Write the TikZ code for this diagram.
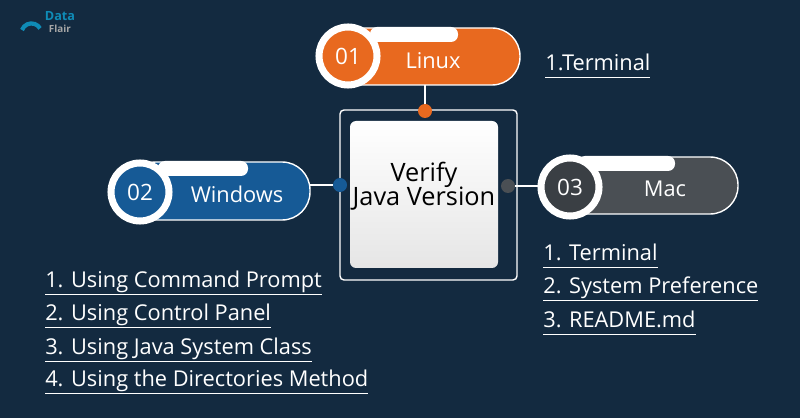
\documentclass[tikz,border=0pt]{standalone}
\usepackage{fontspec}
\setmainfont{Open Sans}
\definecolor{bg}{HTML}{132A40}
\definecolor{lin}{HTML}{E8691F}
\definecolor{win}{HTML}{165A96}
\definecolor{mac}{HTML}{4A4F54}
\definecolor{macd}{HTML}{3A3F44}
\usetikzlibrary{calc}
\newlength{\pxu}\setlength{\pxu}{0.025cm}
\tikzset{
 pill/.style={rounded corners=28\pxu, draw=white, line width=1pt},
 num/.style={circle, draw=white, line width=5pt, minimum size=58\pxu, inner sep=0pt, text=white, font=\fontsize{16}{18}\selectfont},
 lbl/.style={text=white, font=\fontsize{15.5}{18}\selectfont},
 item/.style={text=white, anchor=west, inner sep=0pt, font=\fontsize{15.5}{18}\selectfont},
 dot/.style={circle, inner sep=0pt, minimum size=14\pxu},
 conn/.style={white, line width=1.5pt},
}
\newcommand{\ul}[1]{\underline{\vphantom{y}#1}}
\begin{document}
\begin{tikzpicture}[x=0.025cm,y=-0.025cm]
\fill[bg] (0,0) rectangle (800,418);
\useasboundingbox (0,0) rectangle (800,418);
% logo
\node[text=win!70!cyan, font=\bfseries\fontsize{9}{10}\selectfont, anchor=west] (logo1) at (40,16) {Data};
\node[text=gray!70, font=\bfseries\fontsize{7}{8}\selectfont, anchor=west] (logo2) at (44,29) {Flair};
\draw[win!70!cyan, line width=3pt] (22,30) arc (200:330:10);
% frame
\draw[white, line width=1pt, rounded corners=4\pxu] (340,110) rectangle (517,280);
\shade[top color=white, bottom color=gray!20, rounded corners=6\pxu] (350,121) rectangle (498,268);
\node[font=\fontsize{18}{20}\selectfont, align=center, text=black] (ver) at (424,186) {Verify\\[-3pt]Java Version};
% Linux
\fill[lin, pill] (335,28) rectangle (520,85);
\fill[white, rounded corners=7\pxu] (370,27) rectangle (458,42);
\node[num, fill=lin] (n1) at (348,56) {01};
\node[lbl] (l1) at (433,61) {Linux};
% Windows
\fill[win, pill] (128,162) rectangle (310,220);
\fill[white, rounded corners=7\pxu] (158,161) rectangle (248,176);
\node[num, fill=win] (n2) at (140,192) {02};
\node[lbl] (l2) at (237,194) {Windows};
% Mac
\fill[mac, pill] (560,157) rectangle (738,214);
\fill[white, rounded corners=7\pxu] (578,156) rectangle (675,171);
\node[num, fill=macd] (n3) at (570,187) {03};
\node[lbl] (l3) at (665,189) {Mac};
% dots and connectors
\node[dot, fill=lin] (d1) at (425,111) {};
\node[dot, fill=win] (d2) at (340,185) {};
\node[dot, fill=mac] (d3) at (508,186) {};
\coordinate (p1) at (425,85);
\coordinate (p2) at (310,185);
\coordinate (p3) at (540,186);
\draw[conn] (p1) -- (d1);
\draw[conn] (p2) -- (d2);
\draw[conn] (d3) -- (p3);
% lists
\node[item] (t0) at (545,66) {\ul{1.Terminal}};
\node[item] (r1) at (543,256) {\ul{1. Terminal}};
\node[item] (r2) at (543,289) {\ul{2. System Preference}};
\node[item] (r3) at (543,323) {\ul{3. README.md}};
\node[item] (a1) at (45,283) {\ul{1. Using Command Prompt}};
\node[item] (a2) at (45,316) {\ul{2. Using Control Panel}};
\node[item] (a3) at (45,350) {\ul{3. Using Java System Class}};
\node[item] (a4) at (45,382) {\ul{4. Using the Directories Method}};
\end{tikzpicture}
\end{document}
